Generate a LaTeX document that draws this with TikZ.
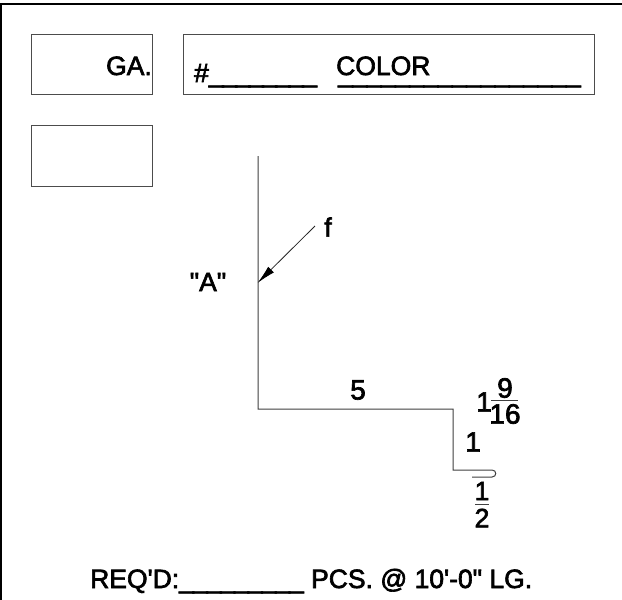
\documentclass[tikz,border=0pt]{standalone}
\usepackage{fontspec}
\setmainfont{Liberation Sans}[Ligatures=TeXOff,FakeBold=2.4]
\usetikzlibrary{arrows.meta}
\newcommand{\tightus}[1]{\_\kern#1}
\tikzset{
  thinbox/.style={draw=black!70,line width=0.9pt},
  profile/.style={draw=black!75,line width=1pt,line join=miter},
  frameline/.style={draw=black,line width=2pt},
  lbl/.style={inner sep=0pt,font=\fontsize{26.5}{26}\selectfont,text=black},
  numlbl/.style={inner sep=0pt,font=\fontsize{28}{28}\selectfont,text=black},
  fracbar/.style={draw=black!75,line width=1pt}
}
\begin{document}
\begin{tikzpicture}[x=1pt,y=-1pt]
\useasboundingbox (0,0) rectangle (622,600);
\fill[white] (0,0) rectangle (622,600);
\draw[frameline] (0,3.5) -- (622,3.5);
\draw[frameline] (1,3.5) -- (1,600);
\draw[thinbox] (31,34.5) rectangle (152.5,94.5);
\draw[thinbox] (183.5,34.5) rectangle (594,94.5);
\draw[thinbox] (31,125.5) rectangle (152.5,186);
\node[lbl,anchor=base east] (ga) at (152,75) {GA.};
\node[lbl,anchor=base west] (num) at (194,82) {\#\tightus{-1.4pt}\tightus{-1.4pt}\tightus{-1.4pt}\tightus{-1.4pt}\tightus{-1.4pt}\tightus{-1.4pt}\tightus{-1.4pt}\_};
\node[lbl,anchor=base west] (color) at (336,75) {COLOR};
\node[lbl,anchor=base west,text height=0pt,text depth=7pt] (colorline) at (338,82) {\tightus{-0.5pt}\tightus{-0.5pt}\tightus{-0.5pt}\tightus{-0.5pt}\tightus{-0.5pt}\tightus{-0.5pt}\tightus{-0.5pt}\tightus{-0.5pt}\tightus{-0.5pt}\tightus{-0.5pt}\tightus{-0.5pt}\tightus{-0.5pt}\tightus{-0.5pt}\tightus{-0.5pt}\tightus{-0.5pt}\tightus{-0.5pt}\_};
\draw[profile] (258,156) -- (258,409) -- (453,409) -- (453,470) -- (492,470)
  .. controls (497,470) and (497,477) .. (492,477) -- (472,477);
\coordinate (fstart) at (315,226);
\coordinate (ftip) at (257.5,283);
\draw[black!85,line width=0.8pt,-{Latex[length=19pt,width=8pt,black]}] (fstart) -- (ftip);
\node[lbl] (f) at (328,227) {f};
\node[lbl] (a) at (208,282) {"A"};
\node[numlbl] (five) at (358,390) {5};
\node[numlbl] (one) at (484,402) {1};
\node[numlbl] (nine) at (505,388) {9};
\draw[fracbar] (491,400.5) -- (518,400.5);
\node[numlbl] (sixteen) at (505,414) {16};
\node[numlbl] (onev) at (473,442) {1};
\node[lbl] (h1) at (482,491) {1};
\draw[fracbar] (475,504) -- (489,504);
\node[lbl] (h2) at (482,518) {2};
\node[lbl,anchor=base west] (req) at (90,588) {REQ'D:\tightus{-1pt}\tightus{-1pt}\tightus{-1pt}\tightus{-1pt}\tightus{-1pt}\tightus{-1pt}\tightus{-1pt}\tightus{-1pt}\_ PCS. @ 10'-0" LG.};
\end{tikzpicture}
\end{document}
